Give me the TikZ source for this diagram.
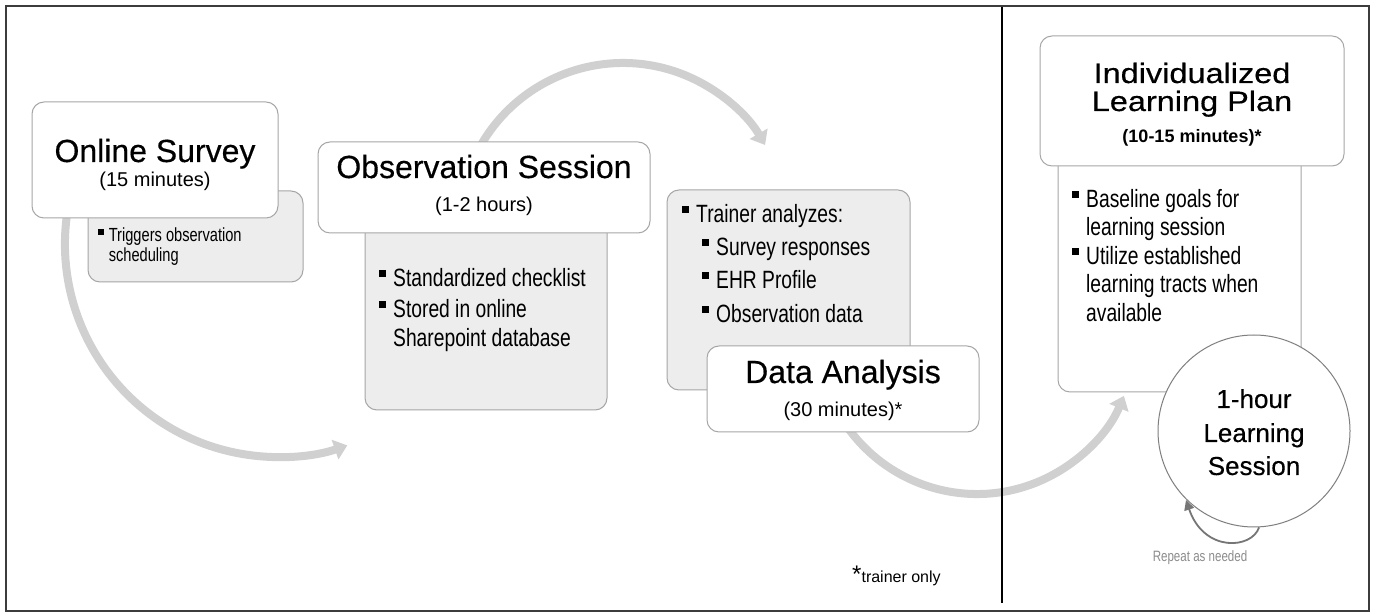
\documentclass[tikz,border=0pt]{standalone}
\usepackage{fontspec}
\setmainfont{Liberation Sans}
\newfontfamily\narrowfont[FakeStretch=0.77]{Liberation Sans}
\newfontfamily\headfont[FakeBold=0.4]{Liberation Sans}
\newfontfamily\wideheadfont[FakeBold=0.4,FakeStretch=1.16]{Liberation Sans}
\usetikzlibrary{arrows.meta}
\definecolor{framegray}{HTML}{3C3C3C}
\definecolor{boxline}{HTML}{A6A6A6}
\definecolor{boxfill}{HTML}{EDEDED}
\definecolor{flowgray}{HTML}{D0D0D0}
\definecolor{loopgray}{HTML}{767676}
\definecolor{notegray}{HTML}{8C8C8C}
\definecolor{ringgray}{HTML}{7F7F7F}
\newcommand\sqbullet{\rule[0.38em]{0.29em}{0.29em}}
\newcommand\bul[1]{\makebox[0.56em][l]{\sqbullet}#1}

\begin{document}
\begin{tikzpicture}[x=1pt,y=1pt,
  panel/.style={draw=boxline, line width=1pt, rounded corners=12pt, inner sep=0pt},
  graypanel/.style={panel, fill=boxfill},
  whitepanel/.style={panel, fill=white},
  flow/.style={draw=flowgray, line width=8pt, -{Triangle[width=20pt,length=13pt]}},
  looparrow/.style={draw=loopgray, line width=1.8pt, -{Triangle[width=10pt,length=10pt]}},
  head/.style={inner sep=0pt, anchor=base, font=\headfont\fontsize{32}{32}\selectfont},
  sub/.style={inner sep=0pt, anchor=base, font=\fontsize{20}{20}\selectfont},
  item/.style={inner sep=0pt, anchor=base west, font=\narrowfont\fontsize{25}{25}\selectfont},
  smallitem/.style={inner sep=0pt, anchor=base west, font=\narrowfont\fontsize{19}{19}\selectfont},
  ringtext/.style={inner sep=0pt, anchor=base, font=\headfont\fontsize{26}{26}\selectfont},
  plantext/.style={inner sep=0pt, anchor=base, font=\wideheadfont\fontsize{28}{28}\selectfont},
]
\useasboundingbox (0,0) rectangle (1375,615);
\fill[white] (0,0) rectangle (1375,615);

% flow arcs (their starts are tucked under the boxes)
\coordinate (arcA) at (68.2,408.0);
\coordinate (arcB) at (474.4,457.3);
\coordinate (arcC) at (832.9,212.8);
\draw[flow] (arcA) arc[start angle=170, end angle=289, radius=213pt];
\draw[flow] (arcB) arc[start angle=155, end angle=30, radius=164pt];
\draw[flow] (arcC) arc[start angle=205, end angle=337.5, radius=159pt];

% step 1: online survey
\node[graypanel, minimum width=215pt, minimum height=91pt] (surveyNote) at (195.5,378.5) {};
\node[whitepanel, minimum width=246pt, minimum height=116pt] (survey) at (155,455) {};

% step 2: observation session
\node[graypanel, minimum width=242pt, minimum height=210pt] (obsNote) at (486,310) {};
\node[whitepanel, minimum width=332pt, minimum height=91pt] (obs) at (484,427.5) {};

% step 3: data analysis
\node[graypanel, minimum width=243pt, minimum height=200pt] (dataNote) at (788.5,325) {};
\node[whitepanel, minimum width=272pt, minimum height=86pt] (data) at (843,226) {};

% divider and outer frame
\coordinate (divTop) at (1002,609);
\coordinate (divBot) at (1002,12);
\draw[line width=1.2pt] (divTop) -- (divBot);
\draw[framegray, line width=1.5pt] (6,4) rectangle (1369,609);

% step 4: learning plan and session
\node[whitepanel, minimum width=243pt, minimum height=242pt] (planNote) at (1179.5,344) {};
\node[whitepanel, minimum width=304pt, minimum height=130pt] (plan) at (1192,514) {};
\node[circle, draw=ringgray, line width=1pt, fill=white, minimum size=192pt, inner sep=0pt] (session) at (1254,184) {};
\coordinate (loopEnd) at (1186,115);
\draw[looparrow] (session.-87) .. controls (1252,66) and (1204,62) .. (loopEnd);

% headings
\node[head] (surveyT) at (155,453) {Online Survey};
\node[sub] (surveyS) at (155,428) {(15 minutes)};
\node[head] (obsT) at (484,437) {Observation Session};
\node[sub] (obsS) at (484,403) {(1-2 hours)};
\node[head] (dataT) at (843,232) {Data Analysis};
\node[sub] (dataS) at (843,198) {(30 minutes)*};
\node[plantext] (planT1) at (1192,532) {Individualized};
\node[plantext] (planT2) at (1192,504) {Learning Plan};
\node[inner sep=0pt, anchor=base, font=\bfseries\fontsize{18}{18}\selectfont] (planS) at (1192,472) {(10-15 minutes)*};
\node[ringtext] (sesT1) at (1254,207) {1-hour};
\node[ringtext] (sesT2) at (1254,173) {Learning};
\node[ringtext] (sesT3) at (1254,140) {Session};

% bullet text
\node[smallitem] (s1) at (98,373) {\bul{Triggers observation}};
\node[smallitem] (s2) at (108.6,353) {scheduling};

\node[item] (o1) at (379,328) {\bul{Standardized checklist}};
\node[item] (o2) at (379,297) {\bul{Stored in online}};
\node[item] (o3) at (393,268) {Sharepoint database};

\node[item] (d1) at (682,392) {\bul{Trainer analyzes:}};
\node[item] (d2) at (702,359) {\bul{Survey responses}};
\node[item] (d3) at (702,326) {\bul{EHR Profile}};
\node[item] (d4) at (702,292) {\bul{Observation data}};

\node[item] (p1) at (1072,407) {\bul{Baseline goals for}};
\node[item] (p2) at (1086,379) {learning session};
\node[item] (p3) at (1072,350) {\bul{Utilize established}};
\node[item] (p4) at (1086,322) {learning tracts when};
\node[item] (p5) at (1086,293) {available};

% notes
\node[inner sep=0pt, anchor=base, text=notegray, font=\narrowfont\fontsize{15}{15}\selectfont] (repeat) at (1200,53) {Repeat as needed};
\node[inner sep=0pt, anchor=base west, font=\fontsize{16}{16}\selectfont] (trainer) at (852,32) {{\fontsize{24}{24}\selectfont *}trainer only};
\end{tikzpicture}
\end{document}
